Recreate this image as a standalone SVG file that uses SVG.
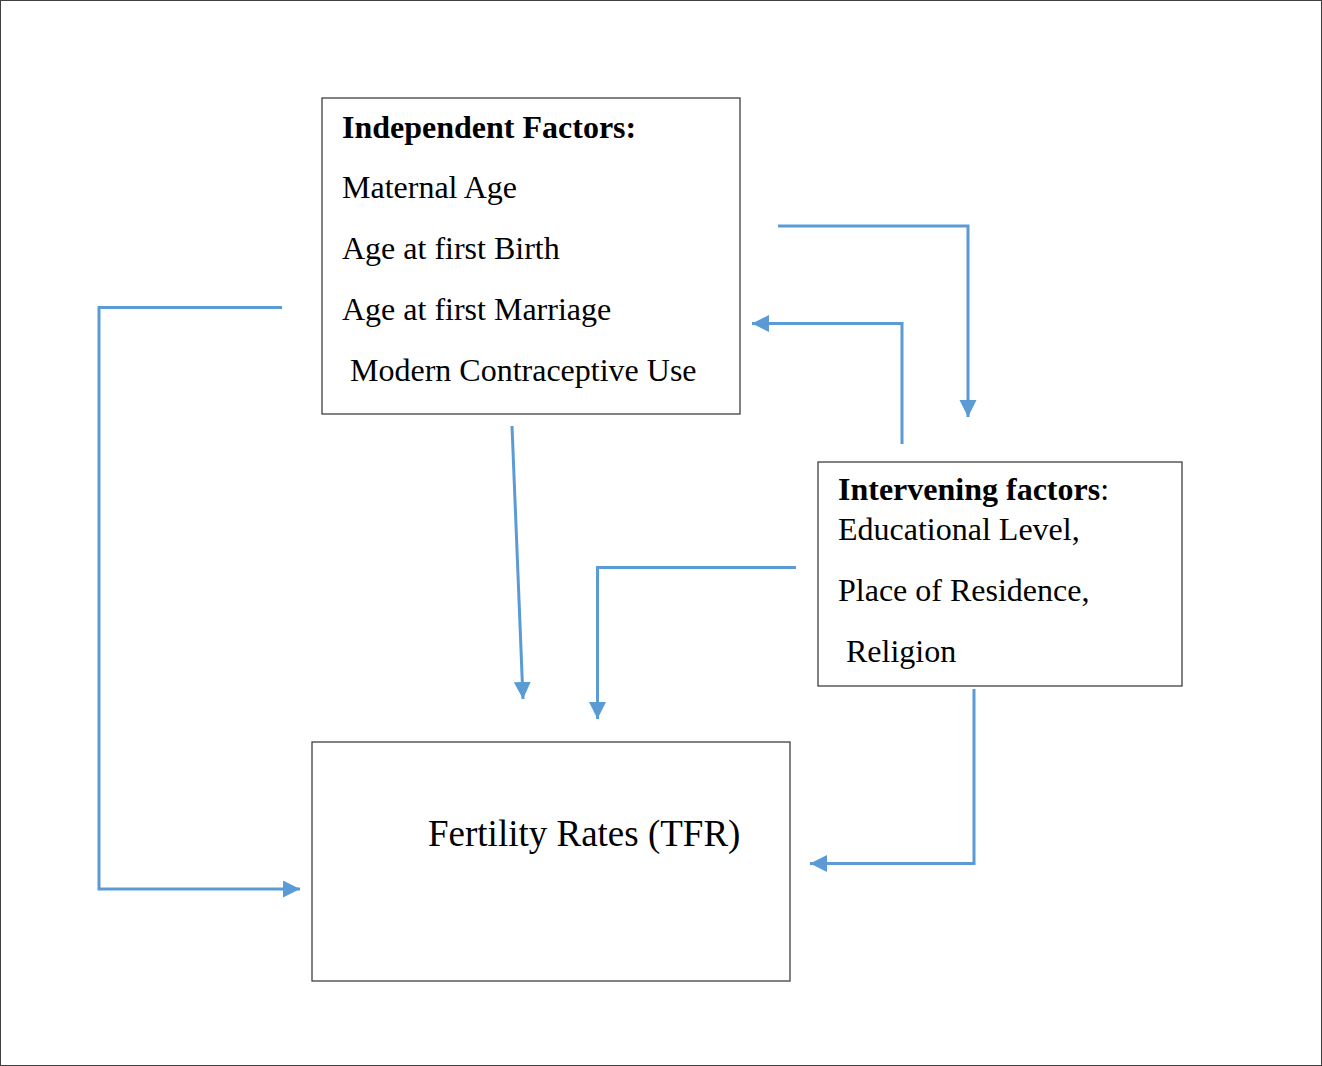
<svg xmlns="http://www.w3.org/2000/svg" width="1322" height="1066" viewBox="0 0 1322 1066">
<style>
.box{fill:#fff;stroke:#404040;stroke-width:1.3}
.t{font-family:"Liberation Serif","Times New Roman",serif;font-size:32px;fill:#000}
.b{font-weight:bold}
.c{fill:none;stroke:#5B9BD5;stroke-width:3;marker-end:url(#ah)}
</style>
<defs>
<marker id="ah" markerUnits="userSpaceOnUse" markerWidth="20" markerHeight="20" refX="17" refY="8.5" orient="auto">
<path d="M0,0 L17,8.5 L0,17 z" fill="#5B9BD5"/>
</marker>
</defs>
<rect x="0.5" y="0.5" width="1321" height="1065" fill="#fff" stroke="#404040" stroke-width="1"/>
<g id="independent">
<rect class="box" x="322" y="98" width="418" height="316"/>
<text class="t b" x="342" y="138">Independent Factors:</text>
<text class="t" x="342" y="198">Maternal Age</text>
<text class="t" x="342" y="259">Age at first Birth</text>
<text class="t" x="342" y="320">Age at first Marriage</text>
<text class="t" x="350" y="381">Modern Contraceptive Use</text>
</g>
<g id="intervening">
<rect class="box" x="818" y="462" width="364" height="224"/>
<text class="t" x="838" y="500"><tspan class="b">Intervening factors</tspan>:</text>
<text class="t" x="838" y="540">Educational Level,</text>
<text class="t" x="838" y="601">Place of Residence,</text>
<text class="t" x="846" y="662">Religion</text>
</g>
<g id="fertility">
<rect class="box" x="312" y="742" width="478" height="239"/>
<text class="t" x="428" y="846" style="font-size:37px">Fertility Rates (TFR)</text>
</g>
<g id="connectors">
<path class="c" d="M282,307.5 H99 V889 H300"/>
<path class="c" d="M778,226 H968 V417"/>
<path class="c" d="M902,444 V323.5 H752"/>
<path class="c" d="M512,426 L523,699"/>
<path class="c" d="M796,567.5 H597.5 V719"/>
<path class="c" d="M974,689 V863.5 H810"/>
</g>
</svg>
